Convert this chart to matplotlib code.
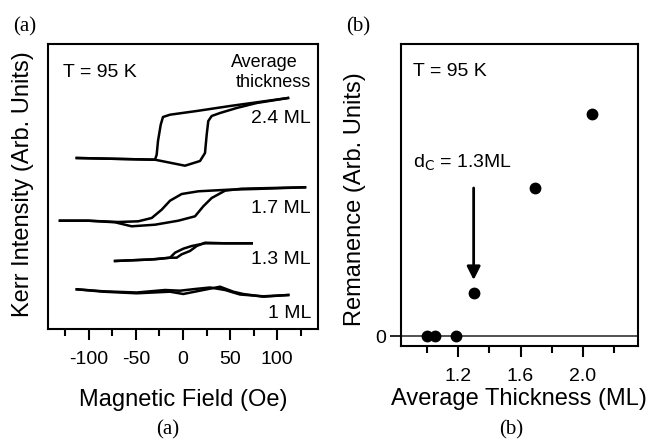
import matplotlib
matplotlib.use("Agg")
import matplotlib.pyplot as plt

plt.rcParams['font.family'] = ['Liberation Sans', 'DejaVu Sans']
plt.rcParams['axes.unicode_minus'] = False

W, H = 649, 440

# ---------------- Panel (a) data: hysteresis loops (field in Oe, Kerr intensity arb.) -----
h24_up = [-113, -29.8, 2.1, 18.1, 23.4, 25.2, 26.9, 30.5, 39.4, 57.1, 78.4, 111.7]
k24_up = [171, 169.3, 163.3, 168, 176, 194.3, 208, 213, 216, 221, 226, 231]
h24_dn = [111.7, 50, 14.6, -13.8, -21.3, -23.7, -26.6, -28, -29.8, -113]
k24_dn = [231, 223, 218, 214.3, 212, 204.3, 188, 174.3, 169.3, 171]

h17_up = [-130.9, -100.7, -72.3, -54.6, -29.8, -5, 12.8, 21.6, 30.5, 44.7, 62.4, 94.4, 129.8]
k17_up = [108.3, 108.3, 106.7, 102.7, 104.3, 108.3, 112.7, 122.7, 131, 138.3, 140.3, 141, 141.7]
h17_dn = [129.8, 76.6, 48.2, 16.3, -1.4, -13.8, -22.7, -33.3, -47.6, -68.8, -100.7, -130.9]
k17_dn = [141.7, 140, 139.3, 137.7, 135, 128.3, 119.3, 111, 107.7, 107, 108.3, 108.3]

h13_up = [-72.3, -35.1, -13.8, -6.7, -1.4, 7.4, 14.6, 23.4, 44.7, 73.1]
k13_up = [68, 69.5, 71.3, 71.3, 74.7, 78, 83, 86.3, 85.7, 85.7]
h13_dn = [73.1, 23.4, 9.3, 0.3, -8.5, -13.8, -29.8, -72.3]
k13_dn = [85.7, 85.7, 83, 80.3, 76.3, 71.3, 69.7, 68]

h10_up = [-113, -84.8, -49.3, -13.8, 0.3, 21.6, 39.4, 53.5, 64.1, 85.4, 112]
k10_up = [39.7, 37.3, 35.7, 37.3, 35, 39, 42.3, 37.3, 35, 32.3, 34]
h10_dn = [112, 85.4, 60.6, 44.7, 28.7, 12.8, -3.2, -19.1, -49.3, -84.8, -113]
k10_dn = [34, 32.7, 34.5, 39, 41.5, 40, 38.3, 39, 36.5, 37.7, 39.7]

loop_labels = ["2.4 ML", "1.7 ML", "1.3 ML", "1 ML"]
label_levels = [211, 121, 70, 16]
field_ticks = [-100, -50, 0, 50, 100]

# ---------------- Panel (b) data ------------------------------------------------------
thickness = [1.0, 1.05, 1.19, 1.30, 1.69, 2.06]
remanence = [0.0, 0.0, 0.0, 0.43, 1.48, 2.22]
thick_ticks = [1.2, 1.6, 2.0]


def fig_rect(l, t, r, b):
    return [l / W, 1 - b / H, (r - l) / W, (b - t) / H]


fig = plt.figure(figsize=(W / 100, H / 100), dpi=100)

# ---------------- Panel (a) -----------------------------------------------------------
ax = fig.add_axes(fig_rect(48, 44, 318, 329))
lw = 1.8
for hu, ku, hd, kd in [(h24_up, k24_up, h24_dn, k24_dn),
                       (h17_up, k17_up, h17_dn, k17_dn),
                       (h13_up, k13_up, h13_dn, k13_dn),
                       (h10_up, k10_up, h10_dn, k10_dn)]:
    ax.plot(hu, ku, color='black', lw=lw, solid_joinstyle='round')
    ax.plot(hd, kd, color='black', lw=lw, solid_joinstyle='round')

ax.set_xlim(-143.6, 143.6)
ax.set_ylim(0, 285)
ax.set_xticks(field_ticks)
ax.set_xticklabels([str(v) for v in field_ticks])
ax.set_xticks([-125, -75, -25, 25, 75, 125], minor=True)
ax.set_yticks([])
ax.tick_params(axis='x', which='major', direction='out', length=8, width=1.5,
               labelsize=14, pad=8)
ax.tick_params(axis='x', which='minor', direction='out', length=5, width=1.5)
for s in ax.spines.values():
    s.set_linewidth(1.5)

ax.text(-127.7, 257, "T = 95 K", fontsize=14, ha='left', va='center')
ax.text(86.7, 267, "Average", fontsize=13, ha='center', va='center')
ax.text(96.3, 247, "thickness", fontsize=13, ha='center', va='center')
for lab, lev in zip(loop_labels, label_levels):
    ax.text(136.2, lev, lab, fontsize=14, ha='right', va='center')

fig.text(23 / W, 1 - 184 / H, "Kerr Intensity (Arb. Units)", fontsize=17,
         rotation=90, ha='center', va='center')
fig.text(183 / W, 1 - 400 / H, "Magnetic Field (Oe)", fontsize=17,
         ha='center', va='center')

# ---------------- Panel (b) -----------------------------------------------------------
bx = fig.add_axes(fig_rect(401, 44, 638, 346))
bx.axhline(0, color='#333333', lw=1.2, zorder=1)
bx.plot(thickness, remanence, 'o', color='black', ms=7.5, zorder=3)
bx.set_xlim(0.835, 2.352)
bx.set_ylim(-0.10, 2.92)
bx.set_xticks(thick_ticks)
bx.set_xticklabels(["%.1f" % v for v in thick_ticks])
bx.set_xticks([1.0, 1.4, 1.8, 2.2], minor=True)
bx.set_yticks([0])
bx.set_yticklabels(["0"])
bx.tick_params(axis='x', which='major', direction='out', length=8, width=1.5,
               labelsize=14, pad=8)
bx.tick_params(axis='x', which='minor', direction='out', length=5, width=1.5)
bx.tick_params(axis='y', direction='out', length=8, width=1.2, labelsize=14, pad=3)
for s in bx.spines.values():
    s.set_linewidth(1.5)

bx.text(0.912, 2.64, "T = 95 K", fontsize=14, ha='left', va='center')
bx.text(0.912, 1.73, r"d$_\mathsf{C}$ = 1.3ML", fontsize=14, ha='left', va='center')
bx.annotate("", xy=(1.30, 0.56), xytext=(1.30, 1.48),
            arrowprops=dict(arrowstyle='-|>', color='black', lw=2,
                            mutation_scale=20, shrinkA=0, shrinkB=0))

fig.text(355 / W, 1 - 199 / H, "Remanence (Arb. Units)", fontsize=17,
         rotation=90, ha='center', va='center')
fig.text(519 / W, 1 - 399 / H, "Average Thickness (ML)", fontsize=17,
         ha='center', va='center')

# ---------------- panel letters -------------------------------------------------------
serif = ['Liberation Serif', 'DejaVu Serif']
fig.text(25 / W, 1 - 27 / H, "(a)", fontsize=15, family=serif, ha='center', va='center')
fig.text(358 / W, 1 - 27 / H, "(b)", fontsize=15, family=serif, ha='center', va='center')
fig.text(168 / W, 1 - 430 / H, "(a)", fontsize=15, family=serif, ha='center', va='center')
fig.text(511 / W, 1 - 430 / H, "(b)", fontsize=15, family=serif, ha='center', va='center')

fig.savefig("out.png", dpi=100)
